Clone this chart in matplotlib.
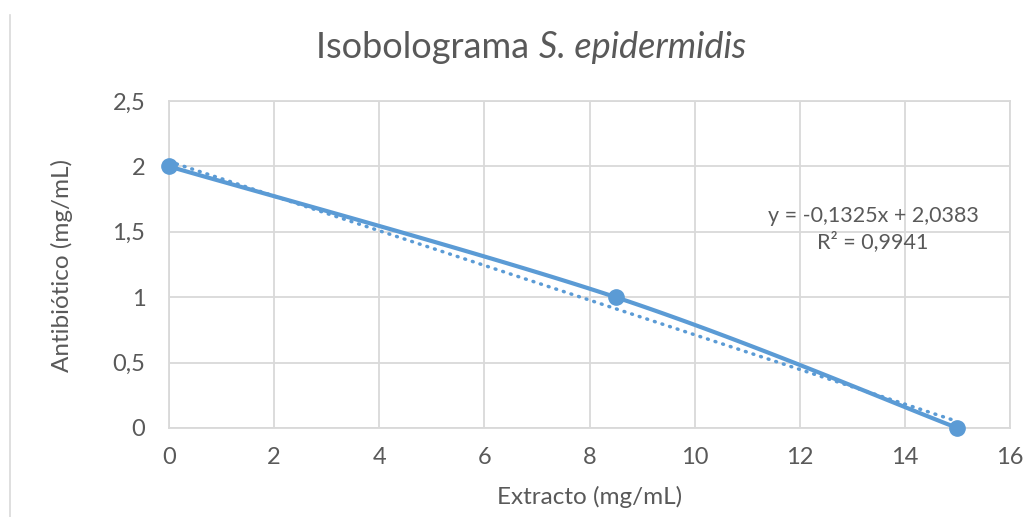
import numpy as np
import matplotlib
matplotlib.use("Agg")
import matplotlib.pyplot as plt
from matplotlib.lines import Line2D

extracto = [0.0, 8.5, 15.0]
antibiotico = [2.0, 1.0, 0.0]
x_ticks = [0, 2, 4, 6, 8, 10, 12, 14, 16]
y_ticks = [0, 0.5, 1, 1.5, 2, 2.5]
y_tick_labels = ["0", "0,5", "1", "1,5", "2", "2,5"]

plt.rcParams['font.family'] = ['Lato', 'DejaVu Sans']
BLUE = '#5B9BD5'
GREY = '#595959'
GRID = '#D9D9D9'

def catmull_rom(xs, ys, n=60):
    px = np.array([xs[0]] + list(xs) + [xs[-1]], float)
    py = np.array([ys[0]] + list(ys) + [ys[-1]], float)
    ox, oy = [], []
    for i in range(1, len(px) - 2):
        t = np.linspace(0, 1, n)
        for arr, out in ((px, ox), (py, oy)):
            p0, p1, p2, p3 = arr[i-1], arr[i], arr[i+1], arr[i+2]
            c1 = p1 + (p2 - p0) / 6
            c2 = p2 - (p3 - p1) / 6
            out.extend((1-t)**3*p1 + 3*(1-t)**2*t*c1 + 3*(1-t)*t**2*c2 + t**3*p2)
    return np.array(ox), np.array(oy)

W, H = 1036, 517
fig = plt.figure(figsize=(W/100, H/100), dpi=100)
ax = fig.add_axes([169/W, 1-428/H, (1010-169)/W, (428-101)/H])

sx, sy = catmull_rom(extracto, antibiotico)
ax.plot(sx, sy, color=BLUE, lw=3.0, solid_capstyle='round', zorder=3, clip_on=False)
ax.plot(extracto, antibiotico, 'o', color=BLUE, ms=11, zorder=4, clip_on=False)

m, b = np.polyfit(extracto, antibiotico, 1)
tx = np.array([min(extracto), max(extracto)])
ax.plot(tx, m*tx + b, color=BLUE, lw=2.5, linestyle=(0, (0.25, 2.05)),
        dash_capstyle='round', zorder=2, clip_on=False)

yy = np.array(antibiotico)
pred = m*np.array(extracto) + b
r2 = 1 - np.sum((yy-pred)**2)/np.sum((yy-yy.mean())**2)
def fmt(v):
    return f"{v:.4f}".replace('.', ',')
eq = f"y = {fmt(m)}x + {fmt(b)}\nR² = {fmt(r2)}"
ax.text(873, H-229, eq, ha='center', va='center', fontsize=15.5, color=GREY,
        linespacing=1.3, zorder=5, transform=None)

ax.set_xlim(0, 16)
ax.set_ylim(0, 2.5)
ax.set_xticks(x_ticks)
ax.set_yticks(y_ticks)
ax.set_yticklabels(y_tick_labels)
ax.grid(True, color=GRID, lw=1.3)
ax.set_axisbelow(True)
for s in ax.spines.values():
    s.set_color(GRID)
    s.set_linewidth(1.3)
ax.tick_params(length=0, labelsize=17, colors=GREY)
ax.tick_params(axis='y', pad=17)
ax.tick_params(axis='x', pad=14)

ax.set_xlabel("Extracto (mg/mL)", fontsize=17.5, color=GREY)
ax.set_ylabel("Antibiótico (mg/mL)", fontsize=17.5, color=GREY)
ax.xaxis.set_label_coords(590/W, 1-497/H, transform=fig.transFigure)
ax.yaxis.set_label_coords(62/W, 1-265/H, transform=fig.transFigure)
ax.xaxis.label.set_va('center')
ax.yaxis.label.set_va('center')

# title: regular + italic parts centred at x=531
ty = 1-47/H
t1 = fig.text(0, ty, "Isobolograma ", fontsize=26, color=GREY, va='center', ha='left')
t2 = fig.text(0, ty, "S. epidermidis", fontsize=26, color=GREY, va='center', ha='left',
              style='italic')
fig.canvas.draw()
r = fig.canvas.get_renderer()
w1 = t1.get_window_extent(r).width
w2 = t2.get_window_extent(r).width
x0 = 531 - (w1 + w2) / 2
t1.set_x(x0 / W)
t2.set_x((x0 + w1) / W)

fig.add_artist(Line2D([10/W, 10/W], [0, 1-15/H], color='#D9D9D9', lw=1.2))

fig.savefig("out.png", dpi=100)
